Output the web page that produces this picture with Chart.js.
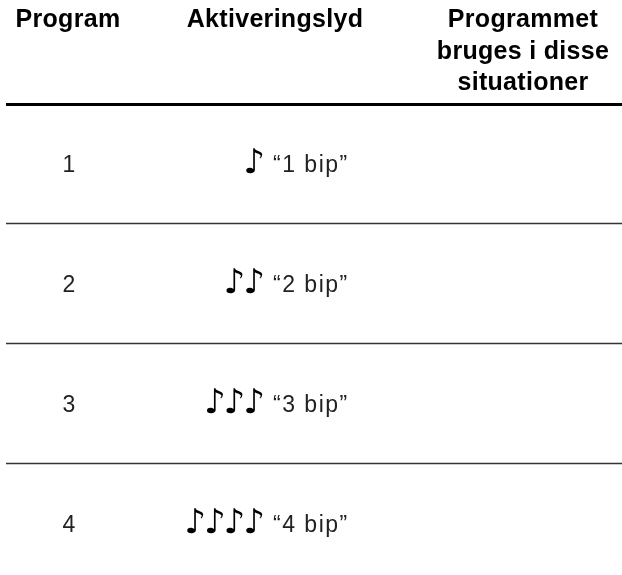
<!DOCTYPE html>
<html>
<head>
<meta charset="utf-8">
<script src="https://cdn.jsdelivr.net/npm/chart.js@4"></script>
<style>
  html, body { margin: 0; padding: 0; background: #fff; }
  #wrap { width: 622px; height: 575px; }
</style>
</head>
<body>
<div id="wrap"><canvas id="tableChart"></canvas></div>
<script>
// table content
var headers = [['Program'], ['Aktiveringslyd'], ['Programmet', 'bruges i disse', 'situationer']];
var programs = ['1', '2', '3', '4'];
var beepCounts = [1, 2, 3, 4];
var beepLabels = ['\u201c1 bip\u201d', '\u201c2 bip\u201d', '\u201c3 bip\u201d', '\u201c4 bip\u201d'];
var situations = ['', '', '', ''];

// layout (pixels on the x scale, rows on the y scale)
var colX = [69, 267, 523];
var headX = [68, 275, 523];
var headFont = 'bold 25px "Liberation Sans", Arial, sans-serif';
var bodyFont = '23px "Liberation Sans", Arial, sans-serif';
var noteFont = '34px "DejaVu Sans", sans-serif';

function cells(col, arr) {
  return arr.map(function (v, i) { return { x: colX[col], y: i }; });
}

var tablePlugin = {
  id: 'tablePlugin',
  afterDatasetsDraw: function (chart) {
    var ctx = chart.ctx;
    var xs = chart.scales.x, ys = chart.scales.y;
    ctx.save();

    // header text
    ctx.fillStyle = '#000';
    ctx.font = headFont;
    ctx.letterSpacing = '0.3px';
    ctx.textAlign = 'center';
    ctx.textBaseline = 'alphabetic';
    headers.forEach(function (lines, c) {
      lines.forEach(function (t, k) {
        ctx.fillText(t, xs.getPixelForValue(headX[c]), 27 + k * 31.5);
      });
    });

    // header rule
    var yHead = ys.getPixelForValue(-0.5) + 1.5;
    ctx.strokeStyle = '#000';
    ctx.lineWidth = 3;
    ctx.beginPath();
    ctx.moveTo(xs.getPixelForValue(6), yHead);
    ctx.lineTo(xs.getPixelForValue(622), yHead);
    ctx.stroke();

    // row rules
    ctx.strokeStyle = '#333';
    ctx.lineWidth = 1.3;
    for (var r = 0; r < programs.length - 1; r++) {
      var yy = Math.round(ys.getPixelForValue(r + 0.5)) + 0.5;
      ctx.beginPath();
      ctx.moveTo(xs.getPixelForValue(6), yy);
      ctx.lineTo(xs.getPixelForValue(622), yy);
      ctx.stroke();
    }

    // cells
    ctx.textBaseline = 'alphabetic';
    chart.getDatasetMeta(0).data.forEach(function (pt, i) {
      ctx.font = bodyFont;
      ctx.letterSpacing = '0px';
      ctx.fillStyle = '#222';
      ctx.textAlign = 'center';
      ctx.fillText(programs[i], pt.x, pt.y + 9);
    });
    chart.getDatasetMeta(1).data.forEach(function (pt, i) {
      ctx.fillStyle = '#000';
      ctx.font = noteFont;
      ctx.letterSpacing = '-2px';
      ctx.textAlign = 'right';
      ctx.fillText('\u266A'.repeat(beepCounts[i]), pt.x - 4, pt.y + 10);
      ctx.font = bodyFont;
      ctx.letterSpacing = '1.5px';
      ctx.fillStyle = '#222';
      ctx.textAlign = 'left';
      ctx.fillText(beepLabels[i], pt.x + 6, pt.y + 9);
    });
    chart.getDatasetMeta(2).data.forEach(function (pt, i) {
      ctx.font = bodyFont;
      ctx.textAlign = 'center';
      ctx.fillText(situations[i], pt.x, pt.y);
    });
    ctx.restore();
  }
};

new Chart(document.getElementById('tableChart'), {
  type: 'scatter',
  data: {
    datasets: [
      { data: cells(0, programs), pointRadius: 0 },
      { data: cells(1, beepLabels), pointRadius: 0 },
      { data: cells(2, situations), pointRadius: 0 }
    ]
  },
  options: {
    responsive: true,
    maintainAspectRatio: false,
    animation: false,
    layout: { padding: 0 },
    plugins: { legend: { display: false }, tooltip: { enabled: false } },
    scales: {
      x: { type: 'linear', min: 0, max: 622, display: false },
      y: { type: 'linear', min: -163 / 120, max: 412 / 120, reverse: true, display: false }
    }
  },
  plugins: [tablePlugin]
});
</script>
</body>
</html>
